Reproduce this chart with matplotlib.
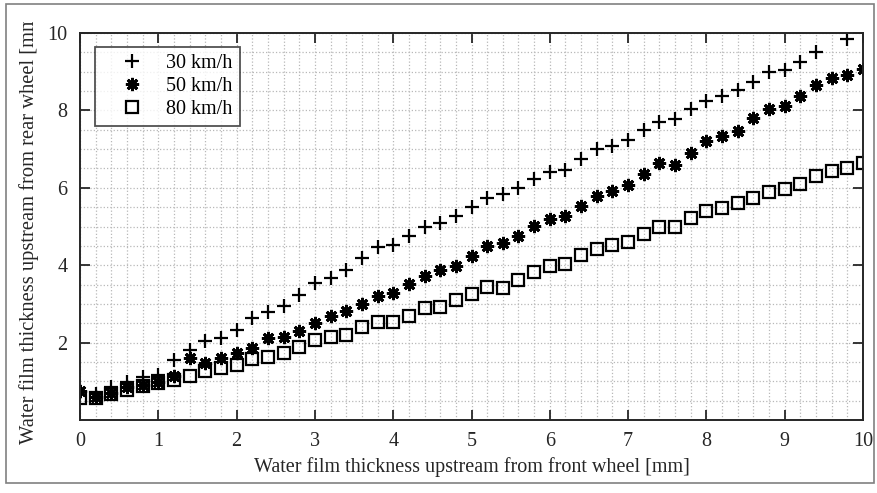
import numpy as np
import matplotlib
matplotlib.use('Agg')
import matplotlib.pyplot as plt
from matplotlib.patches import Rectangle
from matplotlib.ticker import MultipleLocator

plt.rcParams['font.family'] = ['Liberation Serif', 'DejaVu Serif']

# front wheel film thickness [mm]
x = [0.0, 0.2, 0.4, 0.6, 0.8, 1.0, 1.2, 1.4, 1.6, 1.8,
     2.0, 2.2, 2.4, 2.6, 2.8, 3.0, 3.2, 3.4, 3.6, 3.8,
     4.0, 4.2, 4.4, 4.6, 4.8, 5.0, 5.2, 5.4, 5.6, 5.8,
     6.0, 6.2, 6.4, 6.6, 6.8, 7.0, 7.2, 7.4, 7.6, 7.8,
     8.0, 8.2, 8.4, 8.6, 8.8, 9.0, 9.2, 9.4, 9.6, 9.8, 10.0]

v30 = [0.72, 0.68, 0.86, 0.99, 1.12, 1.16, 1.55, 1.81, 2.05, 2.11,
       2.33, 2.63, 2.80, 2.94, 3.24, 3.54, 3.68, 3.88, 4.18, 4.46,
       4.52, 4.75, 4.99, 5.10, 5.27, 5.51, 5.74, 5.84, 6.00, 6.24,
       6.42, 6.46, 6.74, 6.99, 7.08, 7.24, 7.50, 7.71, 7.78, 8.03,
       8.25, 8.37, 8.53, 8.74, 8.98, 9.04, 9.26, 9.50, np.nan, 9.84, np.nan]

v50 = [0.76, 0.60, 0.69, 0.84, 0.90, 0.99, 1.14, 1.59, 1.46, 1.59,
       1.74, 1.85, 2.12, 2.15, 2.30, 2.50, 2.70, 2.82, 3.00, 3.20,
       3.29, 3.51, 3.72, 3.88, 3.99, 4.24, 4.50, 4.57, 4.75, 5.01,
       5.19, 5.27, 5.53, 5.79, 5.92, 6.07, 6.36, 6.63, 6.59, 6.91,
       7.22, 7.34, 7.47, 7.81, 8.03, 8.11, 8.37, 8.66, 8.85, 8.91, 9.07]

v80 = [0.58, 0.57, 0.68, 0.78, 0.88, 0.95, 1.03, 1.14, 1.27, 1.34,
       1.42, 1.57, 1.63, 1.72, 1.88, 2.06, 2.15, 2.20, 2.40, 2.52,
       2.54, 2.69, 2.90, 2.91, 3.09, 3.26, 3.43, 3.40, 3.63, 3.83,
       3.98, 4.03, 4.26, 4.41, 4.52, 4.61, 4.81, 4.98, 4.99, 5.23,
       5.40, 5.47, 5.60, 5.73, 5.90, 5.96, 6.10, 6.31, 6.43, 6.50, 6.63]

labels = ['30 km/h', '50 km/h', '80 km/h']
yticks = [2, 4, 6, 8, 10]

fig = plt.figure(figsize=(8.78, 4.93), dpi=100)
ax = fig.add_axes([80/878, 1-420/493, 783/878, 387/493])

ax.plot(x, v30, ls='none', marker='+', ms=10.5, mew=1.6, color='k', label=labels[0])
ax.plot(x, v50, ls='none', marker=(8, 2, 0), ms=9.5, mew=2.0, color='k', label=labels[1])
ax.plot(x, v80, ls='none', marker='s', ms=8.5, mew=1.6, mfc='none', mec='k', label=labels[2])

ax.set_xlim(0, 10)
ax.set_ylim(0, 10)
ax.xaxis.set_major_locator(MultipleLocator(1))
ax.xaxis.set_minor_locator(MultipleLocator(0.2))
ax.set_yticks(yticks)
ax.yaxis.set_minor_locator(MultipleLocator(0.5))
ax.grid(True, which='both', ls=':', lw=0.9, color='#b8b8b8')
ax.set_axisbelow(True)
ax.tick_params(which='major', direction='in', length=7, width=1.3, top=True, right=True,
               labelsize=14.5, pad=9, colors='#262626')
ax.tick_params(which='minor', length=0)
for s in ax.spines.values():
    s.set_linewidth(1.4)
    s.set_color('#262626')

ax.set_xlabel('Water film thickness upstream from front wheel [mm]', fontsize=14.5, labelpad=4,
              color='#262626')
yl = ax.set_ylabel('Water film thickness upstream from rear wheel [mm]', fontsize=14.8,
                   labelpad=6, color='#262626')
# the top of the y label is cut off in the original
yl.set_clip_path(Rectangle((0, 0), 1, 1-22/493, transform=fig.transFigure))

leg = ax.legend(loc='upper left', bbox_to_anchor=(0.019, 0.963), fontsize=14.5, frameon=True,
                fancybox=False, edgecolor='#262626', handletextpad=0.2, borderpad=0.35,
                labelspacing=0.18, handlelength=3.0, borderaxespad=0)
leg.get_frame().set_linewidth(1.3)

# outer border
fig.patches.append(Rectangle((6/878, 1-483/493), 868/878, 479/493, transform=fig.transFigure,
                             fill=False, edgecolor='#808080', lw=1.2))

plt.savefig('out.png', dpi=100)
